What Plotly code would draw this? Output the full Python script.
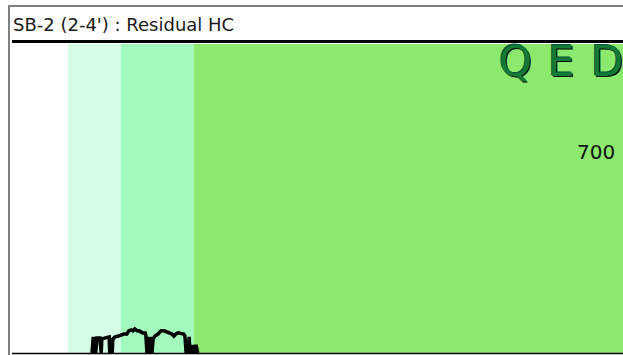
import plotly.graph_objects as go

# Residual HC trace (x in % of run, y in response units)
trace_x = [13.1, 13.3, 13.4, 13.6, 13.7, 13.9, 14.4, 14.6, 14.7, 15.2, 15.7, 15.9,
           16.0, 16.4, 16.5, 16.9, 17.4, 17.8, 18.3, 18.8, 19.1, 19.5, 19.8, 20.1,
           20.5, 20.8, 21.1, 21.4, 21.8, 21.9, 22.1, 22.3, 22.4, 22.6, 22.8, 22.9,
           23.1, 23.4, 23.9, 24.4, 24.9, 25.4, 25.9, 26.2, 26.5, 26.8, 27.2, 27.7,
           28.1, 28.3, 28.5, 28.8, 29.0, 29.1, 29.3, 29.6, 29.8, 30.1, 30.3, 30.4]
trace_y = [0, 56, 0, 56, 0, 52, 52, 0, 49, 52, 56, 56,
           0, 0, 49, 56, 59, 63, 66, 66, 77, 80, 77, 84,
           77, 77, 73, 70, 70, 63, 0, 56, 0, 56, 0, 0,
           49, 59, 66, 77, 77, 73, 70, 66, 59, 66, 70, 66,
           66, 59, 0, 0, 56, 0, 0, 28, 0, 28, 0, 0]

# zone edges along x and their colours
band_edges = [0, 9.2, 17.8, 29.8, 100]
band_colors = ["#ffffff", "#d4fde5", "#a2fbbc", "#8bea6d"]

title_text = "SB-2 (2-4') : Residual HC"
scale_label = 700

W, H = 623, 355
L, T, B = 12, 44, 2
PW, PH = W - L, H - T - B


def px(x):
    return (x - L) / PW


def py(y):
    return (H - B - y) / PH


fig = go.Figure()
fig.add_trace(go.Scatter(x=trace_x, y=trace_y, mode="lines",
                         line=dict(color="#000000", width=3.5), hoverinfo="skip"))

for i, c in enumerate(band_colors):
    fig.add_vrect(x0=band_edges[i], x1=band_edges[i + 1], fillcolor=c, opacity=1,
                  line_width=0, layer="below")

shapes = [
    # grey window border
    dict(type="line", xref="paper", yref="paper", x0=px(9), x1=px(9), y0=py(6), y1=py(356),
         line=dict(color="#808080", width=2)),
    dict(type="line", xref="paper", yref="paper", x0=px(8), x1=px(624), y0=py(6), y1=py(6),
         line=dict(color="#808080", width=2)),
    # thick black top rule and bottom rule
    dict(type="line", xref="paper", yref="paper", x0=0, x1=1.01, y0=py(41.5), y1=py(41.5),
         line=dict(color="#000000", width=3)),
    dict(type="line", xref="paper", yref="paper", x0=0, x1=1.01, y0=py(353.5), y1=py(353.5),
         line=dict(color="#000000", width=1.5)),
]
for s in shapes:
    fig.add_shape(**s)

fig.add_annotation(text=title_text, xref="paper", yref="paper", x=px(11), y=py(24),
                   xanchor="left", yanchor="middle", showarrow=False,
                   font=dict(family="DejaVu Sans", size=18, color="#1a1a1a"))

fig.add_annotation(text=str(scale_label), xref="paper", yref="y", x=px(596), y=scale_label,
                   xanchor="center", yanchor="middle", showarrow=False,
                   font=dict(family="DejaVu Sans", size=20, color="#111111"))

for letter, cx in zip("QED", [515, 561, 607]):
    fig.add_annotation(text=letter, xref="paper", yref="paper", x=px(cx), y=py(62),
                       xanchor="center", yanchor="middle", showarrow=False,
                       font=dict(family="DejaVu Sans", size=42, color="#127a36",
                                 shadow="1px 1px 0 #000, -1px -1px 0 #053"))

fig.update_layout(
    width=W, height=H,
    margin=dict(l=L, r=0, t=T, b=B),
    paper_bgcolor="#ffffff", plot_bgcolor="#ffffff",
    showlegend=False,
    xaxis=dict(range=[0, 100], visible=False, fixedrange=True),
    yaxis=dict(range=[0, 1075], visible=False, fixedrange=True),
)

# drop the default page margin so the figure sits at the window's corner
fig.write_html("out.html", config={"displayModeBar": False},
               post_script="document.body.style.margin = '0';")
